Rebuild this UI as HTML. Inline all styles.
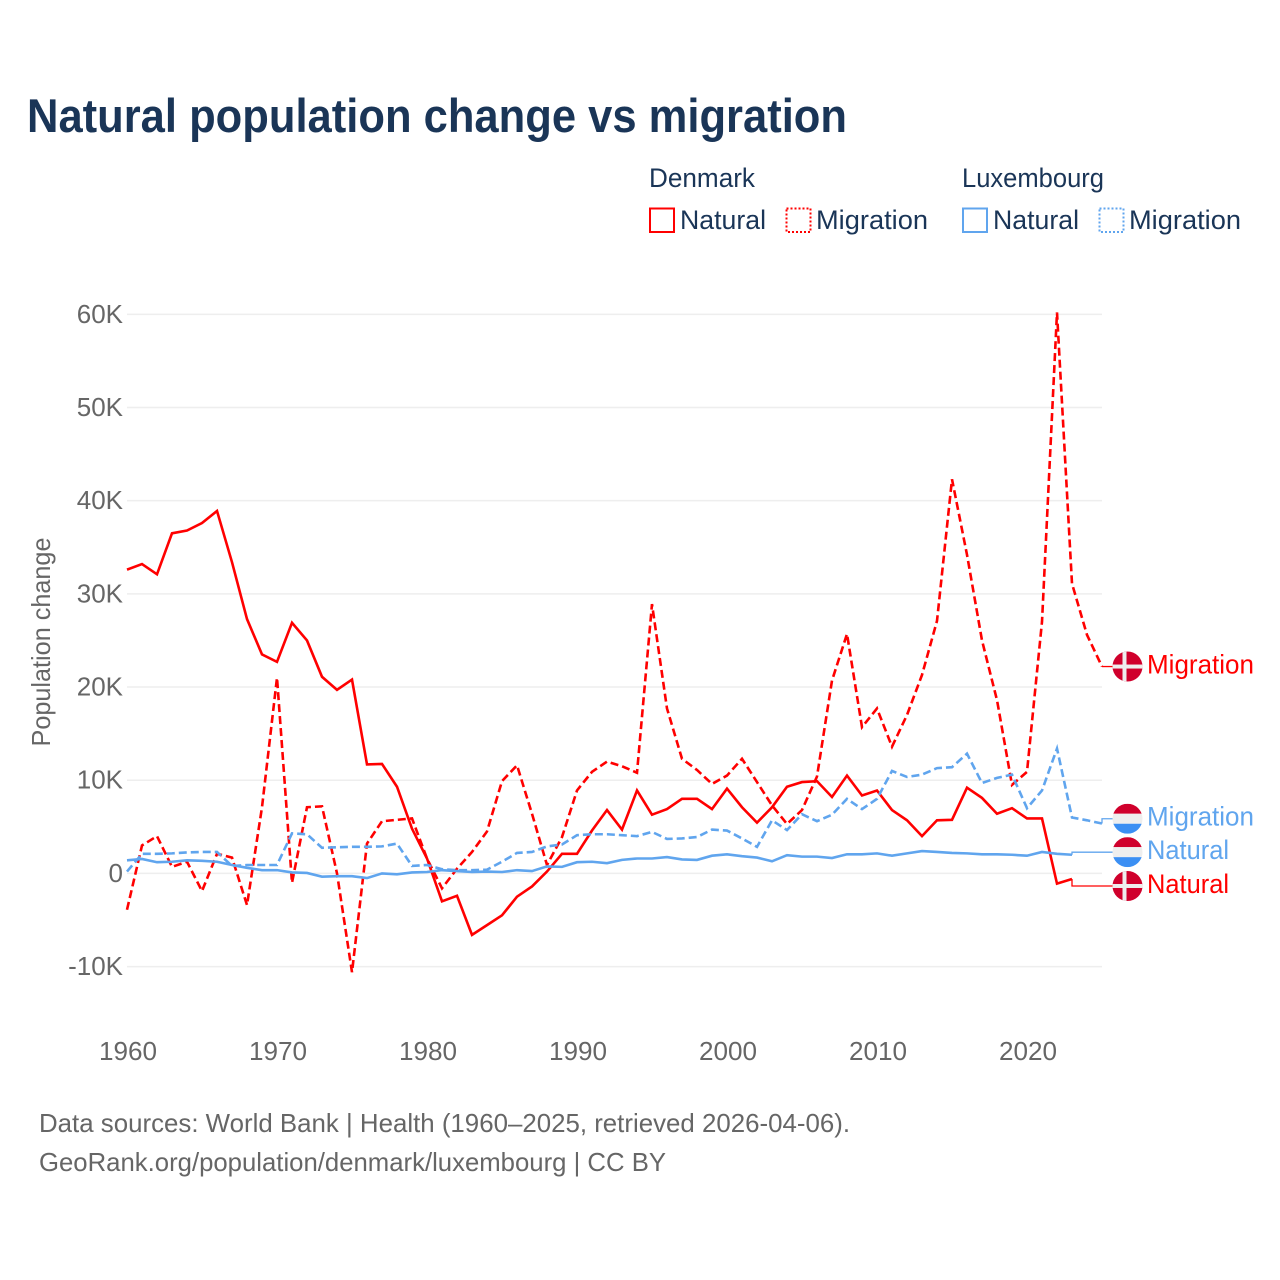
<!DOCTYPE html>
<html lang="en">
<head>
<meta charset="utf-8">
<title>Natural population change vs migration</title>
<style>
html,body{margin:0;padding:0;background:#fff;}
svg{display:block;font-family:"Liberation Sans",sans-serif;}
</style>
</head>
<body>
<svg id="chart" xmlns="http://www.w3.org/2000/svg" width="1280" height="1280" viewBox="0 0 1280 1280">
  <defs>
    <clipPath id="flag-clip"><circle cx="0" cy="0" r="15"></circle></clipPath>
  </defs>
  <rect x="0" y="0" width="1280" height="1280" fill="#ffffff"></rect>
  <text x="27" y="132" font-size="47" font-weight="700" fill="#1a3557" textLength="820" lengthAdjust="spacingAndGlyphs">Natural population change vs migration</text>

  <g font-size="27" fill="#1a3557">
    <text x="649" y="187" textLength="106" lengthAdjust="spacingAndGlyphs">Denmark</text>
    <text x="962" y="187" textLength="142" lengthAdjust="spacingAndGlyphs">Luxembourg</text>
    <rect x="650" y="208.5" width="24" height="23.5" fill="none" stroke="#ff0000" stroke-width="2"></rect>
    <text x="680" y="229" textLength="86" lengthAdjust="spacingAndGlyphs">Natural</text>
    <rect x="786.5" y="208.5" width="24" height="23.5" fill="none" stroke="#ff0000" stroke-width="2" stroke-dasharray="2,2"></rect>
    <text x="816" y="229" textLength="112" lengthAdjust="spacingAndGlyphs">Migration</text>
    <rect x="963" y="208.5" width="24" height="23.5" fill="none" stroke="#60a5ee" stroke-width="2"></rect>
    <text x="993" y="229" textLength="86" lengthAdjust="spacingAndGlyphs">Natural</text>
    <rect x="1099.5" y="208.5" width="24" height="23.5" fill="none" stroke="#60a5ee" stroke-width="2" stroke-dasharray="2,2"></rect>
    <text x="1129" y="229" textLength="112" lengthAdjust="spacingAndGlyphs">Migration</text>
  </g>

  <text transform="translate(50,642) rotate(-90)" text-anchor="middle" font-size="26" fill="#666666" textLength="209" lengthAdjust="spacingAndGlyphs">Population change</text>

  <g id="grid"></g>
  <g id="y-axis"></g>
  <g id="x-axis"></g>
  <g id="series"></g>
  <g id="end-labels"></g>

  <text x="39" y="1132" font-size="26" fill="#666666" textLength="811" lengthAdjust="spacingAndGlyphs">Data sources: World Bank | Health (1960–2025, retrieved 2026-04-06).</text>
  <text x="39" y="1171" font-size="26" fill="#666666" textLength="627" lengthAdjust="spacingAndGlyphs">GeoRank.org/population/denmark/luxembourg | CC BY</text>
</svg>

<script>
const years = [1960,1961,1962,1963,1964,1965,1966,1967,1968,1969,1970,1971,1972,1973,1974,1975,1976,1977,1978,1979,1980,1981,1982,1983,1984,1985,1986,1987,1988,1989,1990,1991,1992,1993,1994,1995,1996,1997,1998,1999,2000,2001,2002,2003,2004,2005,2006,2007,2008,2009,2010,2011,2012,2013,2014,2015,2016,2017,2018,2019,2020,2021,2022,2023,2024,2025];

const denmarkNatural = [32.6,33.2,32.1,36.5,36.8,37.6,38.9,33.4,27.3,23.5,22.7,26.9,25.0,21.1,19.7,20.8,11.7,11.75,9.3,4.8,1.6,-3.0,-2.4,-6.6,-5.55,-4.5,-2.5,-1.4,0.2,2.1,2.1,4.6,6.8,4.7,8.9,6.3,6.9,8.0,8.0,6.9,9.1,7.1,5.45,7.1,9.3,9.8,9.9,8.2,10.5,8.36,8.9,6.8,5.7,4.0,5.7,5.75,9.2,8.1,6.4,7.0,5.9,5.9,-1.1,-0.6];

const denmarkMigration = [-3.9,3.0,4.0,0.7,1.25,-1.9,2.1,1.7,-3.4,7.1,21.0,-1.0,7.1,7.2,0.0,-10.6,3.2,5.6,5.75,5.9,1.6,-1.6,0.5,2.3,4.5,9.9,11.6,6.4,0.9,3.9,8.9,10.9,12.0,11.5,10.8,28.9,17.7,12.3,11.1,9.6,10.5,12.3,9.8,7.3,5.3,6.8,10.4,20.7,25.7,15.7,17.7,13.6,17.0,21.3,27.1,42.3,34.2,25.0,18.6,9.5,10.9,27.0,60.2,31.1,25.6,22.2];

const luxembourgNatural = [1.4,1.55,1.2,1.25,1.4,1.35,1.25,0.9,0.6,0.35,0.35,0.1,0.05,-0.35,-0.3,-0.3,-0.5,0.0,-0.1,0.1,0.15,0.35,0.25,0.15,0.2,0.15,0.35,0.25,0.75,0.7,1.2,1.25,1.1,1.45,1.6,1.6,1.75,1.5,1.45,1.9,2.05,1.85,1.7,1.3,1.95,1.8,1.8,1.65,2.05,2.05,2.15,1.9,2.15,2.4,2.3,2.2,2.15,2.05,2.05,2.0,1.9,2.3,2.1,2.0];

const luxembourgMigration = [0.2,2.1,2.1,2.15,2.25,2.3,2.3,0.8,0.9,0.9,0.9,4.3,4.2,2.75,2.8,2.85,2.85,2.9,3.2,0.8,0.9,0.45,0.35,0.35,0.4,1.25,2.2,2.3,2.9,3.1,4.1,4.2,4.2,4.1,4.0,4.45,3.7,3.75,3.9,4.7,4.6,3.75,2.85,5.7,4.65,6.35,5.6,6.3,8.0,6.9,8.0,11.0,10.35,10.6,11.3,11.4,12.85,9.7,10.25,10.6,7.0,8.9,13.4,6.0,5.7,5.35];

const yTickValues = [-10,0,10,20,30,40,50,60];
const yTickLabels = ["-10K","0","10K","20K","30K","40K","50K","60K"];
const xTickValues = [1960,1970,1980,1990,2000,2010,2020];
const xTickLabels = ["1960","1970","1980","1990","2000","2010","2020"];

const SVGNS = "http://www.w3.org/2000/svg";
const RED = "#ff0000";
const BLUE = "#60a5ee";
const xScale = function (year) { return 127 + (year - 1960) * 15; };
const yScale = function (value) { return 873.4 - value * 9.318; };

function make(tag, attrs, parent, text) {
  const el = document.createElementNS(SVGNS, tag);
  Object.keys(attrs).forEach(function (k) { el.setAttribute(k, attrs[k]); });
  if (text !== undefined) { el.textContent = text; }
  parent.appendChild(el);
  return el;
}

const gridGroup = document.getElementById("grid");
const yAxisGroup = document.getElementById("y-axis");
yTickValues.forEach(function (value, i) {
  const line = make("line", {x1: 127, x2: 1102, y1: yScale(value), y2: yScale(value), stroke: "#eeeeee", "stroke-width": 1.5}, gridGroup);
  
  
  const label = make("text", {x: 123, y: yScale(value) + 8.5, "text-anchor": "end", "font-size": 26, fill: "#666666"}, yAxisGroup, yTickLabels[i]);
  
  
});

const xAxisGroup = document.getElementById("x-axis");
xTickValues.forEach(function (year, i) {
  const label = make("text", {x: xScale(year) + 1, y: 1060, "text-anchor": "middle", "font-size": 26, fill: "#666666", textLength: 58, lengthAdjust: "spacingAndGlyphs"}, xAxisGroup, xTickLabels[i]);
  
  
});

function linePath(values) {
  return values.map(function (v, i) {
    return (i === 0 ? "M" : "L") + xScale(years[i]).toFixed(2) + " " + yScale(v).toFixed(2);
  }).join(" ");
}

const seriesGroup = document.getElementById("series");

const pathDenmarkNatural = make("path", {d: linePath(denmarkNatural), fill: "none", stroke: RED, "stroke-width": 2.6, "stroke-linejoin": "miter"}, seriesGroup);



const pathDenmarkMigration = make("path", {d: linePath(denmarkMigration), fill: "none", stroke: RED, "stroke-width": 2.6, "stroke-dasharray": "8,4"}, seriesGroup);



const pathLuxNatural = make("path", {d: linePath(luxembourgNatural), fill: "none", stroke: BLUE, "stroke-width": 2.6}, seriesGroup);



const pathLuxMigration = make("path", {d: linePath(luxembourgMigration), fill: "none", stroke: BLUE, "stroke-width": 2.6, "stroke-dasharray": "8,4"}, seriesGroup);



const endGroup = document.getElementById("end-labels");

function drawEnd(values, nudge, color, flagType, text, textWidth) {
  const lastX = xScale(years[values.length - 1]);
  const lastY = yScale(values[values.length - 1]);
  const labelY = lastY + nudge;
  const connector = make("path", {d: "M" + lastX + " " + lastY + " L" + lastX + " " + labelY + " L1113 " + labelY, fill: "none", stroke: color, "stroke-width": 1.3}, endGroup);
  
  

  const flag = make("g", {transform: "translate(1127.5," + labelY + ")", "clip-path": "url(#flag-clip)"}, endGroup);
  
  
  if (flagType === "denmark") {
    make("rect", {x: -15, y: -15, width: 30, height: 30, fill: "#d0002c"}, flag);
    make("rect", {x: -5, y: -15, width: 4, height: 30, fill: "#eeeeee"}, flag);
    make("rect", {x: -15, y: -2, width: 30, height: 4, fill: "#eeeeee"}, flag);
  } else {
    make("rect", {x: -15, y: -15, width: 30, height: 10, fill: "#d0002c"}, flag);
    make("rect", {x: -15, y: -5, width: 30, height: 10, fill: "#eeeeee"}, flag);
    make("rect", {x: -15, y: 5, width: 30, height: 10, fill: "#3b8ff3"}, flag);
  }

  const label = make("text", {x: 1147, y: labelY + 7, "font-size": 27, fill: color, textLength: textWidth, lengthAdjust: "spacingAndGlyphs"}, endGroup, text);
  
  
}

drawEnd(denmarkMigration, 0, RED, "denmark", "Migration", 107);
drawEnd(luxembourgMigration, -4.8, BLUE, "luxembourg", "Migration", 107);
drawEnd(luxembourgNatural, -2.6, BLUE, "luxembourg", "Natural", 82);
drawEnd(denmarkNatural, 7, RED, "denmark", "Natural", 82);
</script>
</body>
</html>
